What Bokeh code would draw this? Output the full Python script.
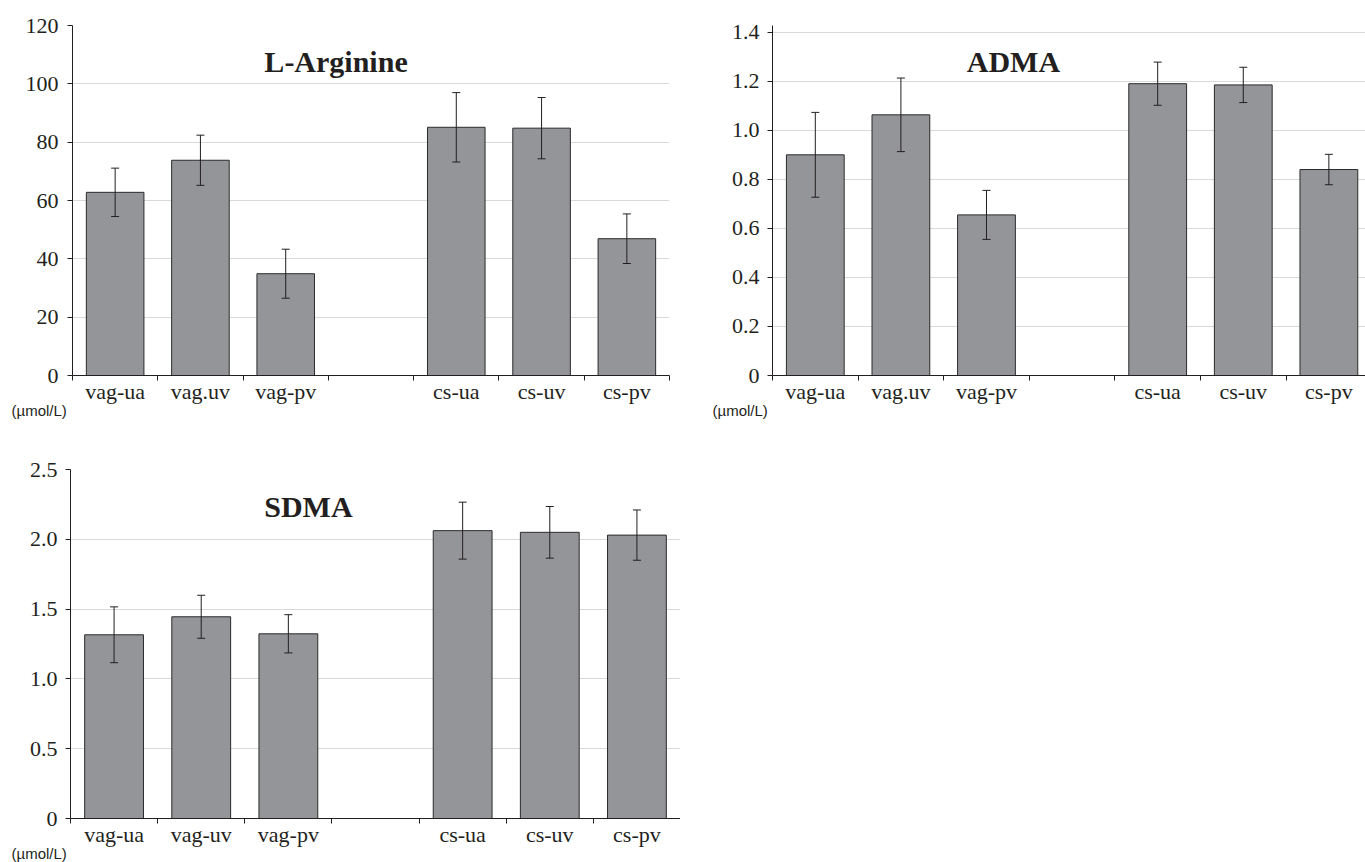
from bokeh.plotting import figure
from bokeh.models import Range1d, FixedTicker, Whisker, TeeHead, ColumnDataSource, Label, Title
from bokeh.layouts import column, row
from bokeh.embed import file_html
from bokeh.resources import INLINE

# ---------------- data ----------------
cats_arg = ["vag-ua", "vag.uv", "vag-pv", "", "cs-ua", "cs-uv", "cs-pv"]
cats_adma = ["vag-ua", "vag.uv", "vag-pv", "", "cs-ua", "cs-uv", "cs-pv"]
cats_sdma = ["vag-ua", "vag-uv", "vag-pv", "", "cs-ua", "cs-uv", "cs-pv"]

arg_mean = [62.8, 73.8, 34.9, None, 85.1, 84.8, 46.9]
arg_err = [8.3, 8.6, 8.4, None, 11.9, 10.5, 8.5]

adma_mean = [0.90, 1.063, 0.655, None, 1.19, 1.185, 0.84]
adma_err = [0.173, 0.15, 0.10, None, 0.088, 0.072, 0.062]

sdma_mean = [1.316, 1.445, 1.323, None, 2.062, 2.05, 2.03]
sdma_err = [0.20, 0.154, 0.137, None, 0.204, 0.185, 0.18]

arg_ticks = [0, 20, 40, 60, 80, 100, 120]
arg_tick_labels = ["0", "20", "40", "60", "80", "100", "120"]
adma_ticks = [0, 0.2, 0.4, 0.6, 0.8, 1.0, 1.2, 1.4]
adma_tick_labels = ["0", "0.2", "0.4", "0.6", "0.8", "1.0", "1.2", "1.4"]
sdma_ticks = [0, 0.5, 1.0, 1.5, 2.0, 2.5]
sdma_tick_labels = ["0", "0.5", "1.0", "1.5", "2.0", "2.5"]

unit_text = "(\u00b5mol/L)"

INK = "#231f20"
BAR = "#949599"
SERIF = "Liberation Serif"
SANS = "Liberation Sans"


def make_panel(cats, means, errs, ticks, tick_labels, ytop, title, title_xy,
               width, height, bl, br, bt, bb, xend, unit_offset, ystand):
    p = figure(width=width, height=height, output_backend="svg",
               toolbar_location=None, x_range=Range1d(0, xend),
               y_range=Range1d(ticks[0], ytop),
               min_border_left=bl, min_border_right=br,
               min_border_top=bt, min_border_bottom=bb)
    p.outline_line_color = None
    p.background_fill_color = "white"
    p.border_fill_color = "white"

    xs = [i + 0.5 for i, m in enumerate(means) if m is not None]
    ms = [m for m in means if m is not None]
    es = [e for e in errs if e is not None]
    src = ColumnDataSource(dict(x=xs, top=ms,
                                upper=[m + e for m, e in zip(ms, es)],
                                lower=[m - e for m, e in zip(ms, es)]))
    p.vbar(x="x", top="top", bottom=0, width=0.675, source=src,
           fill_color=BAR, line_color="#2b2b2b", line_width=1)
    w = Whisker(base="x", upper="upper", lower="lower", source=src,
                line_color=INK, line_width=1, level="overlay",
                upper_head=TeeHead(size=8, line_color=INK, line_width=1),
                lower_head=TeeHead(size=8, line_color=INK, line_width=1))
    p.add_layout(w)

    # x axis: labels at centres, tick marks at category boundaries
    centres = [i + 0.5 for i in range(len(cats))]
    bounds = [i for i in range(len(cats) + 1)]
    xa = p.xaxis[0]
    xa.ticker = FixedTicker(ticks=centres, minor_ticks=bounds)
    xa.major_label_overrides = {c: lab for c, lab in zip(centres, cats)}
    xa.major_tick_out = 0
    xa.major_tick_in = 0
    xa.minor_tick_out = 5
    xa.minor_tick_in = 0
    xa.minor_tick_line_color = INK
    xa.axis_line_color = INK
    xa.major_label_standoff = -2
    xa.major_label_text_font = SERIF
    xa.major_label_text_font_size = "22px"
    xa.major_label_text_color = INK

    ya = p.yaxis[0]
    ya.ticker = FixedTicker(ticks=ticks)
    ya.major_label_overrides = {t: lab for t, lab in zip(ticks, tick_labels)}
    ya.major_tick_out = 5
    ya.major_tick_in = 0
    ya.minor_tick_line_color = None
    ya.major_tick_line_color = INK
    ya.axis_line_color = INK
    ya.major_label_standoff = ystand
    ya.major_label_text_font = SERIF
    ya.major_label_text_font_size = "22px"
    ya.major_label_text_color = INK

    p.xgrid.grid_line_color = None
    p.ygrid.grid_line_color = "#d9d9d9"
    p.ygrid.grid_line_width = 1
    p.ygrid.ticker = FixedTicker(ticks=ticks)

    p.add_layout(Label(x=title_xy[0], y=title_xy[1], text=title,
                       text_align="center", text_baseline="alphabetic",
                       text_font=SERIF, text_font_style="bold",
                       text_font_size="30px", text_color=INK))
    p.add_layout(Title(text=unit_text, align="left", offset=unit_offset,
                       vertical_align="top", standoff=-9,
                       text_font=SANS, text_font_style="normal",
                       text_font_size="15px", text_color=INK), "below")
    return p


p1 = make_panel(cats_arg, arg_mean, arg_err, arg_ticks, arg_tick_labels, 120,
                "L-Arginine", (3.09, 107.7),
                width=680, height=430, bl=72, br=11, bt=25, bb=55,
                xend=7, unit_offset=-61, ystand=9)

p2 = make_panel(cats_adma, adma_mean, adma_err, adma_ticks, adma_tick_labels, 1.4273,
                "ADMA", (2.815, 1.282),
                width=685, height=430, bl=92, br=0, bt=25, bb=55,
                xend=6.928, unit_offset=-60, ystand=8)

p3 = make_panel(cats_sdma, sdma_mean, sdma_err, sdma_ticks, sdma_tick_labels, 2.5,
                "SDMA", (2.73, 2.238),
                width=680, height=432, bl=70, br=0, bt=39, bb=44,
                xend=7, unit_offset=-59, ystand=8)

layout = column(row(p1, p2), p3)
open("out.html", "w").write(file_html(layout, INLINE))
